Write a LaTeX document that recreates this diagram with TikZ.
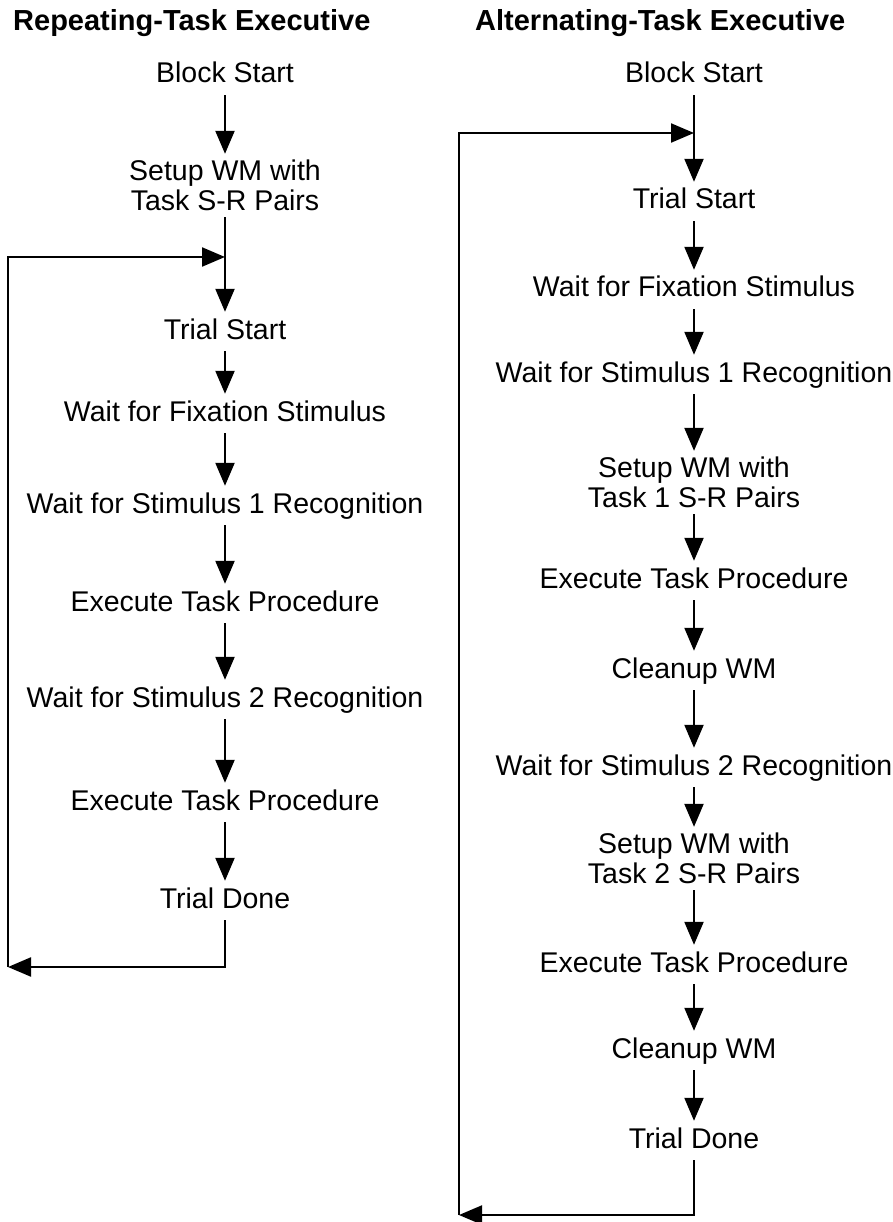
\documentclass[tikz,border=0pt]{standalone}
\usepackage{fontspec}
\setmainfont{Liberation Sans}
\usetikzlibrary{arrows.meta}
\tikzset{
	flow/.style={-{Triangle[length=23pt,width=19pt]},line width=2.2pt},
	step1/.style={font=\fontsize{28.5}{30}\selectfont,text height=21pt,text depth=6pt,inner xsep=2pt,inner ysep=6pt},
	step2/.style={font=\fontsize{28.5}{30}\selectfont,align=center,inner xsep=2pt,inner ysep=6pt},
	heading/.style={font=\fontsize{29}{30}\selectfont\bfseries,inner sep=0pt,anchor=base west}
}
\begin{document}
\begin{tikzpicture}[x=1pt,y=-1pt]
	% page frame
	\useasboundingbox (0,0) rectangle (893,1222);
	% headings
	\node[heading] (titleL) at (13,31) {Repeating-Task Executive};
	\node[heading] (titleR) at (475,31) {Alternating-Task Executive};
	% the repeating column
	\node[step1] (blockL) at (225,75.5) {Block Start};
	\node[step2] (setupL) at (225,185.5) {Setup WM with\\Task S-R Pairs};
	\node[step1] (trialL) at (225,331.5) {Trial Start};
	\node[step1] (fixL) at (225,413.5) {Wait for Fixation Stimulus};
	\node[step1] (stimAL) at (225,505.5) {Wait for Stimulus 1 Recognition};
	\node[step1] (execAL) at (225,603.5) {Execute Task Procedure};
	\node[step1] (stimBL) at (225,699.5) {Wait for Stimulus 2 Recognition};
	\node[step1] (execBL) at (225,802.5) {Execute Task Procedure};
	\node[step1] (doneL) at (225,900.5) {Trial Done};
	\draw[flow] (blockL) -- (setupL);
	\draw[flow] (setupL) -- (trialL);
	\draw[flow] (trialL) -- (fixL);
	\draw[flow] (fixL) -- (stimAL);
	\draw[flow] (stimAL) -- (execAL);
	\draw[flow] (execAL) -- (stimBL);
	\draw[flow] (stimBL) -- (execBL);
	\draw[flow] (execBL) -- (doneL);
	% loop back to trial start
	\coordinate (loopL) at (8,967);
	\coordinate (joinL) at (225,257);
	\draw[flow] (doneL) |- (loopL);
	\draw[flow] (loopL) |- (joinL);
	% the alternating column
	\node[step1] (blockR) at (694,75.5) {Block Start};
	\node[step1] (trialR) at (694,201.5) {Trial Start};
	\node[step1] (fixR) at (694,289.5) {Wait for Fixation Stimulus};
	\node[step1] (stimAR) at (694,374.5) {Wait for Stimulus 1 Recognition};
	\node[step2] (setupAR) at (694,482.5) {Setup WM with\\Task 1 S-R Pairs};
	\node[step1] (execAR) at (694,580.5) {Execute Task Procedure};
	\node[step1] (cleanAR) at (694,670.5) {Cleanup WM};
	\node[step1] (stimBR) at (694,767.5) {Wait for Stimulus 2 Recognition};
	\node[step2] (setupBR) at (694,858.5) {Setup WM with\\Task 2 S-R Pairs};
	\node[step1] (execBR) at (694,964.5) {Execute Task Procedure};
	\node[step1] (cleanBR) at (694,1050.5) {Cleanup WM};
	\node[step1] (doneR) at (694,1140.5) {Trial Done};
	\draw[flow] (blockR) -- (trialR);
	\draw[flow] (trialR) -- (fixR);
	\draw[flow] (fixR) -- (stimAR);
	\draw[flow] (stimAR) -- (setupAR);
	\draw[flow] (setupAR) -- (execAR);
	\draw[flow] (execAR) -- (cleanAR);
	\draw[flow] (cleanAR) -- (stimBR);
	\draw[flow] (stimBR) -- (setupBR);
	\draw[flow] (setupBR) -- (execBR);
	\draw[flow] (execBR) -- (cleanBR);
	\draw[flow] (cleanBR) -- (doneR);
	% loop back to trial start
	\coordinate (loopR) at (459,1215);
	\coordinate (joinR) at (694,133);
	\draw[flow] (doneR) |- (loopR);
	\draw[flow] (loopR) |- (joinR);
\end{tikzpicture}
\end{document}
